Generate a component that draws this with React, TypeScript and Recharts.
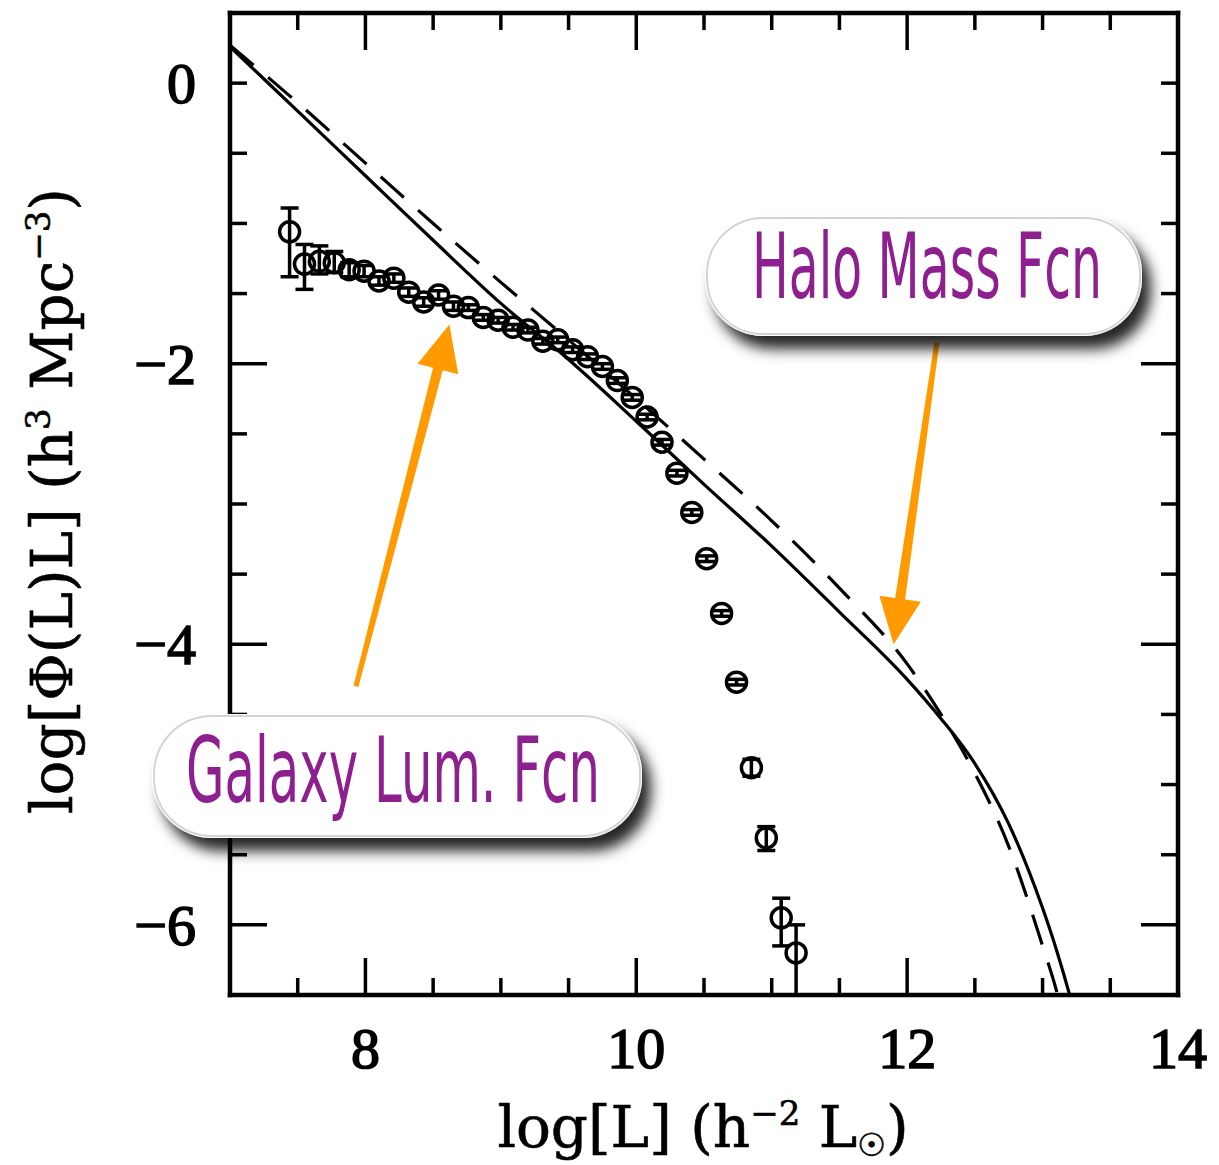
import React from 'react';
import { ComposedChart, Line, Scatter, ErrorBar, XAxis, YAxis, ReferenceLine } from 'recharts';

// galaxy luminosity function points (log L, log phi L)
const lumX = [7.44, 7.55, 7.66, 7.77, 7.88, 7.99, 8.1, 8.21, 8.32, 8.43, 8.54, 8.65, 8.76, 8.87, 8.98, 9.09, 9.2, 9.31, 9.42, 9.53, 9.64, 9.75, 9.86, 9.97, 10.08, 10.19, 10.3, 10.41, 10.52, 10.63, 10.74, 10.85, 10.96, 11.07, 11.18];
const lumY = [-1.06, -1.29, -1.27, -1.28, -1.33, -1.34, -1.41, -1.39, -1.49, -1.56, -1.51, -1.59, -1.6, -1.67, -1.69, -1.74, -1.76, -1.84, -1.83, -1.9, -1.95, -2.02, -2.12, -2.24, -2.38, -2.56, -2.78, -3.06, -3.39, -3.78, -4.27, -4.88, -5.38, -5.95, -6.2];
const lumErrLow = [0.32, 0.18, 0.09, 0.07, 0.05, 0.04, 0.03, 0.03, 0.03, 0.03, 0.03, 0.03, 0.02, 0.02, 0.02, 0.02, 0.02, 0.02, 0.02, 0.02, 0.02, 0.02, 0.02, 0.02, 0.02, 0.02, 0.02, 0.02, 0.02, 0.02, 0.02, 0.06, 0.09, 0.2, 0.3];
const lumErrHigh = [0.17, 0.14, 0.11, 0.08, 0.05, 0.04, 0.03, 0.03, 0.03, 0.03, 0.03, 0.03, 0.02, 0.02, 0.02, 0.02, 0.02, 0.02, 0.02, 0.02, 0.02, 0.02, 0.02, 0.02, 0.02, 0.02, 0.02, 0.02, 0.02, 0.02, 0.02, 0.06, 0.08, 0.14, 0.2];

// halo mass function, solid and dashed
const solidX = [7.0, 7.5, 8.0, 8.5, 9.0, 9.5, 10.0, 10.5, 11.0, 11.5, 12.0, 12.25, 12.5, 12.75, 13.0, 13.1, 13.2, 13.25];
const solidY = [0.26, -0.2, -0.66, -1.12, -1.57, -1.97, -2.41, -2.86, -3.3, -3.77, -4.25, -4.53, -4.85, -5.28, -5.88, -6.17, -6.5, -6.68];
const dashedX = [7.0, 7.5, 8.0, 8.5, 9.0, 9.5, 10.0, 10.5, 11.0, 11.5, 12.0, 12.25, 12.5, 12.75, 13.0, 13.1, 13.15];
const dashedY = [0.27, -0.14, -0.57, -1.0, -1.42, -1.83, -2.25, -2.68, -3.12, -3.6, -4.14, -4.5, -4.92, -5.44, -6.15, -6.46, -6.65];

const xTicks = [7.5, 8, 8.5, 9, 9.5, 10, 10.5, 11, 11.5, 12, 12.5, 13, 13.5, 14];
const xLabels = [8, 10, 12, 14];
const xMajor = [8, 10, 12];
const yTicks = [0, -0.5, -1, -1.5, -2, -2.5, -3, -3.5, -4, -4.5, -5, -5.5, -6];
const yLabels = [0, -2, -4, -6];
const yMajor = [-2, -4, -6];

const lumData = lumX.map((x, i) => ({ x, y: lumY[i], err: [lumErrLow[i], lumErrHigh[i]] }));
const solidData = solidX.map((x, i) => ({ x, y: solidY[i] }));
const dashedData = dashedX.map((x, i) => ({ x, y: dashedY[i] }));

const tickFont: React.CSSProperties = {
  fontFamily: '"Liberation Serif", "DejaVu Serif", serif',
  fontSize: 58,
  fill: '#000',
  stroke: '#000',
  strokeWidth: 1.6,
};
const titleFont: React.CSSProperties = {
  fontFamily: '"DejaVu Serif", "Liberation Serif", serif',
  fontSize: 58,
  fill: '#000',
  stroke: '#000',
  strokeWidth: 0.6,
};
const ORANGE = '#FF9A00';
const PURPLE = '#8E1F8F';

const fmt = (v: number) => (v < 0 ? '\u2212' + Math.abs(v) : String(v));

const BottomTick = (props: any) => {
  const { x, y, payload } = props;
  const v = payload.value;
  const len = xMajor.includes(v) ? 37 : 17;
  return (
    <g>
      <line x1={x} y1={y} x2={x} y2={y - len} stroke="#000" strokeWidth={3.5} />
      {xLabels.includes(v) && (
        <text x={x} y={y + 73} textAnchor="middle" style={tickFont}>{v}</text>
      )}
    </g>
  );
};

const TopTick = (props: any) => {
  const { x, y, payload } = props;
  const len = xMajor.includes(payload.value) ? 37 : 17;
  return <line x1={x} y1={y} x2={x} y2={y + len} stroke="#000" strokeWidth={3.5} />;
};

const LeftTick = (props: any) => {
  const { x, y, payload } = props;
  const v = payload.value;
  const len = yMajor.includes(v) ? 37 : 17;
  return (
    <g>
      <line x1={x} y1={y} x2={x + len} y2={y} stroke="#000" strokeWidth={3.5} />
      {yLabels.includes(v) && (
        <text x={x - 34} y={y + 20} textAnchor="end" style={tickFont}>{fmt(v)}</text>
      )}
    </g>
  );
};

const RightTick = (props: any) => {
  const { x, y, payload } = props;
  const len = yMajor.includes(payload.value) ? 37 : 17;
  return <line x1={x} y1={y} x2={x - len} y2={y} stroke="#000" strokeWidth={3.5} />;
};

const Ring = (props: any) => (
  <circle cx={props.cx} cy={props.cy} r={10} fill="none" stroke="#000" strokeWidth={3.5} />
);

const Arrow = (props: any) => {
  const { x1, y1, x2, y2 } = props;
  if ([x1, y1, x2, y2].some((v) => typeof v !== 'number' || isNaN(v))) return null;
  const dx = x2 - x1;
  const dy = y2 - y1;
  const len = Math.hypot(dx, dy);
  const ux = dx / len;
  const uy = dy / len;
  const nx = -uy;
  const ny = ux;
  const head = 46;
  const hw = 21;
  const tailW = 2.5;
  const neckW = 5;
  const bx = x2 - ux * head;
  const by = y2 - uy * head;
  const pts = [
    [x1 + nx * tailW, y1 + ny * tailW],
    [bx + nx * neckW, by + ny * neckW],
    [bx + nx * hw, by + ny * hw],
    [x2, y2],
    [bx - nx * hw, by - ny * hw],
    [bx - nx * neckW, by - ny * neckW],
    [x1 - nx * tailW, y1 - ny * tailW],
  ];
  return <polygon points={pts.map((p) => p.join(',')).join(' ')} fill={ORANGE} />;
};

const pillText: React.CSSProperties = {
  fontFamily: '"DejaVu Sans", "Noto Sans", sans-serif',
  fontSize: 90,
  fill: PURPLE,
};

// squeezed label text: scaled group so the drawn width is exactly `width`
const SQUEEZE = 0.55;
const PillLabel = ({ x, y, width, text }: { x: number; y: number; width: number; text: string }) => (
  <g transform={`translate(${x},${y}) scale(${SQUEEZE},1)`}>
    <text x={0} y={0} textLength={width / SQUEEZE} lengthAdjust="spacingAndGlyphs" style={pillText}>
      {text}
    </text>
  </g>
);

export default function App() {
  return (
    <div style={{ position: 'absolute', left: 0, top: 0, width: 1219, height: 1165, background: '#fff' }}>
      <ComposedChart width={1219} height={1165} margin={{ top: 0, right: 0, bottom: 0, left: 0 }}>
        <XAxis
          xAxisId={0}
          type="number"
          dataKey="x"
          domain={[7, 14]}
          allowDataOverflow
          ticks={xTicks}
          interval={0}
          height={170}
          tickSize={0}
          tickMargin={0}
          tickLine={false}
          axisLine={{ stroke: '#000', strokeWidth: 4.5, strokeLinecap: 'square' }}
          tick={<BottomTick />}
        />
        <XAxis
          xAxisId="top"
          orientation="top"
          type="number"
          dataKey="x"
          domain={[7, 14]}
          allowDataOverflow
          ticks={xTicks}
          interval={0}
          height={13}
          tickSize={0}
          tickMargin={0}
          tickLine={false}
          axisLine={{ stroke: '#000', strokeWidth: 4.5, strokeLinecap: 'square' }}
          tick={<TopTick />}
        />
        <YAxis
          yAxisId={0}
          type="number"
          dataKey="y"
          domain={[-6.5, 0.5]}
          allowDataOverflow
          ticks={yTicks}
          interval={0}
          width={230}
          tickSize={0}
          tickMargin={0}
          tickLine={false}
          axisLine={{ stroke: '#000', strokeWidth: 4.5, strokeLinecap: 'square' }}
          tick={<LeftTick />}
        />
        <YAxis
          yAxisId="right"
          orientation="right"
          type="number"
          dataKey="y"
          domain={[-6.5, 0.5]}
          allowDataOverflow
          ticks={yTicks}
          interval={0}
          width={41}
          tickSize={0}
          tickMargin={0}
          tickLine={false}
          axisLine={{ stroke: '#000', strokeWidth: 4.5, strokeLinecap: 'square' }}
          tick={<RightTick />}
        />
        <Line
          data={dashedData}
          dataKey="y"
          type="monotone"
          stroke="#000"
          strokeWidth={3.2}
          strokeDasharray="31 19"
          dot={false}
          activeDot={false}
          isAnimationActive={false}
        />
        <Line
          data={solidData}
          dataKey="y"
          type="monotone"
          stroke="#000"
          strokeWidth={3.2}
          dot={false}
          activeDot={false}
          isAnimationActive={false}
        />
        <Scatter data={lumData} dataKey="y" shape={<Ring />} isAnimationActive={false}>
          <ErrorBar dataKey="err" direction="y" width={9} stroke="#000" strokeWidth={3.5} isAnimationActive={false} />
        </Scatter>
        <ReferenceLine segment={[{ x: 7.93, y: -4.3 }, { x: 8.62, y: -1.72 }]} shape={Arrow} />
        <ReferenceLine segment={[{ x: 12.22, y: -1.85 }, { x: 11.9, y: -4.0 }]} shape={Arrow} />
      </ComposedChart>

      <svg width={1219} height={1165} style={{ position: 'absolute', left: 0, top: 0, pointerEvents: 'none' }}>
        <defs>
          <filter id="pillShadow" x="-20%" y="-40%" width="140%" height="200%">
            <feDropShadow dx="9" dy="13" stdDeviation="7" floodColor="#000" floodOpacity="0.85" />
          </filter>
        </defs>

        {/* Halo Mass Fcn label */}
        <rect x={705} y={216} width={437} height={120} rx={58} fill="#fff" filter="url(#pillShadow)" />
        <rect x={707} y={218} width={433} height={116} rx={56} fill="none" stroke="#d4d4d4" strokeWidth={2} />
        <PillLabel x={752} y={298} width={350} text="Halo Mass Fcn" />

        {/* Galaxy Lum. Fcn label */}
        <rect x={152} y={714} width={490} height={124} rx={60} fill="#fff" filter="url(#pillShadow)" />
        <rect x={154} y={716} width={486} height={120} rx={58} fill="none" stroke="#d4d4d4" strokeWidth={2} />
        <PillLabel x={186} y={802} width={414} text="Galaxy Lum. Fcn" />

        {/* axis titles */}
        <text x={703} y={1147} textAnchor="middle" style={titleFont}>
          log[L] (h
          <tspan dy={-22} fontSize={34}>{'\u22122'}</tspan>
          <tspan dy={22}> L</tspan>
          <tspan dy={9} fontSize={32} style={{ fontFamily: '"DejaVu Sans", sans-serif' }}>{'\u2609'}</tspan>
          <tspan dy={-9}>)</tspan>
        </text>
        <text transform="translate(72,501) rotate(-90)" textAnchor="middle" style={titleFont}>
          log[Φ(L)L] (h
          <tspan dy={-22} fontSize={34}>3</tspan>
          <tspan dy={22}> Mpc</tspan>
          <tspan dy={-22} fontSize={34}>{'\u22123'}</tspan>
          <tspan dy={22}>)</tspan>
        </text>
      </svg>
    </div>
  );
}
